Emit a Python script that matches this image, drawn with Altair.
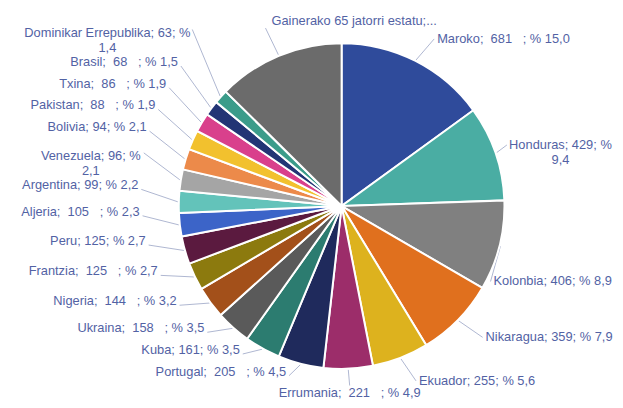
import math
import altair as alt
import pandas as pd

# ---------------- data ----------------
names = ["Maroko", "Honduras", "Kolonbia", "Nikaragua", "Ekuador", "Errumania",
         "Portugal", "Kuba", "Ukraina", "Nigeria", "Frantzia", "Peru", "Aljeria",
         "Argentina", "Venezuela", "Bolivia", "Pakistan", "Txina", "Brasil",
         "Dominikar Errepublika", "Gainerako 65 jatorri estatu"]
counts = [681, 429, 406, 359, 255, 221, 205, 161, 158, 144, 125, 125, 105,
          99, 96, 94, 88, 86, 68, 63, 572]
pcts = ["15,0", "9,4", "8,9", "7,9", "5,6", "4,9", "4,5", "3,5", "3,5", "3,2",
        "2,7", "2,7", "2,3", "2,2", "2,1", "2,1", "1,9", "1,9", "1,5", "1,4", "12,6"]
# label text formatting as shown in the picture
padded = [1, 0, 0, 0, 0, 1, 1, 0, 1, 1, 1, 0, 1, 0, 0, 0, 1, 1, 1, 0, 0]
wrapped = [0, 1, 0, 0, 0, 0, 0, 0, 0, 0, 0, 0, 0, 0, 1, 0, 0, 0, 0, 1, 0]
truncated = [0] * 20 + [1]
colors = ["#2F4B9B", "#4AADA3", "#808080", "#E0701E", "#DDB21E", "#9C2D6A",
          "#1F2A5C", "#2C7C70", "#5A5A5A", "#A3501A", "#8C7A0E", "#5B1A3F",
          "#3C64C8", "#63C3BA", "#A5A5A5", "#EC8A4A", "#F2C12E", "#D9408C",
          "#223575", "#3B9C8A", "#6B6B6B"]

# ---------------- layout constants ----------------
W, H = 615, 400
CX, CY, R = 338, 198, 165
RLX, RLY = 200, 190
FS, LH = 13, 15
GAP = 7
TEXT_COLOR = "#5262A4"
LINE_COLOR = "#AEB6D0"
NB = "\u00a0"


def make_label(i):
    if truncated[i]:
        return f"{names[i]};..."
    cnt = f"{NB}{counts[i]}{NB * 3}" if padded[i] else f"{counts[i]}"
    sep = "\n" if wrapped[i] else " "
    return f"{names[i]}; {cnt}; %{sep}{pcts[i]}"


def char_w(c):
    if c.isdigit():
        return 0.556
    if c in " \u00a0;,.:":
        return 0.278
    if c == "%":
        return 0.889
    if c in "ijl":
        return 0.222
    if c in "ftr":
        return 0.3
    if c in "mw":
        return 0.833
    if c.isupper():
        return 0.68
    return 0.54


def text_w(s):
    return max(sum(char_w(c) for c in line) for line in s.split("\n")) * FS


total = sum(counts)
items = []
cum = 0
for i in range(len(names)):
    mid = (cum + counts[i] / 2) / total * 2 * math.pi
    cum += counts[i]
    sx, sy = math.sin(mid), math.cos(mid)
    lab = make_label(i)
    nl = lab.count("\n") + 1
    it = dict(idx=i, name=names[i], count=counts[i], label=lab, nl=nl,
              w=text_w(lab), half=nl * LH / 2,
              ex=CX + (R + 1) * sx, ey=CY - (R + 1) * sy,
              ax=CX + RLX * sx, ay=CY - RLY * sy, sx=sx, sy=sy)
    if sy > 0.9:
        it["side"] = "top"
    elif sy < -0.98:
        it["side"] = "bottom"
    elif sx > 0:
        it["side"] = "right"
    else:
        it["side"] = "left"
    items.append(it)

# left side: labels sit above their leader, stacked from the bottom up
left = sorted([t for t in items if t["side"] == "left"], key=lambda t: -t["ay"])
prev = None
for t in left:
    y = t["ay"] - 16
    if prev is not None:
        y = min(y, prev["y"] - (prev["half"] + t["half"] + GAP))
    t["y"] = y
    t["bx0"] = t["ax"] - 6 - t["w"]
    t["bx1"] = t["ax"] - 6
    yf = y - (t["nl"] - 1) * LH / 2
    t["lx"], t["ly"] = t["bx1"] + 3, yf + 4
    prev = t

# right side: labels kept inside the page and clear of the pie, stacked downward
right = sorted([t for t in items if t["side"] == "right"], key=lambda t: t["ay"])
prev = None
for t in right:
    x0 = min(t["ax"] + 6, W - 4 - t["w"])
    y = t["ay"]
    d = x0 - CX - 4
    if d < R:
        need = math.sqrt(R * R - d * d) + t["half"]
        if abs(y - CY) < need:
            y = CY + math.copysign(need, y - CY)
    if prev is not None:
        y = max(y, prev["y"] + prev["half"] + t["half"] + GAP)
    t["y"] = y
    t["bx0"], t["bx1"] = x0, x0 + t["w"]
    t["lx"], t["ly"] = x0 - 3, y
    prev = t

for t in items:
    if t["side"] == "top":
        t["y"] = t["ay"] - 12
        t["bx0"] = t["ax"] + 6
        t["bx1"] = t["bx0"] + t["w"]
        t["lx"], t["ly"] = t["ax"], t["y"] + 7
    elif t["side"] == "bottom":
        t["y"] = t["ay"]
        t["bx0"] = t["ax"] - t["w"] / 2
        t["bx1"] = t["ax"] + t["w"] / 2
        t["lx"], t["ly"] = t["ax"], t["y"] - 8

for t in items:
    if t["nl"] > 1 or t["side"] == "bottom":
        t["align"] = "center"
        t["tx"] = (t["bx0"] + t["bx1"]) / 2
    elif t["side"] == "left":
        t["align"] = "right"
        t["tx"] = t["bx1"]
    else:
        t["align"] = "left"
        t["tx"] = t["bx0"]

df = pd.DataFrame(items)
df = df[["idx", "name", "count", "label", "tx", "y", "align", "ex", "ey", "lx", "ly"]]

xs = alt.Scale(domain=[0, W], nice=False, zero=False)
ys = alt.Scale(domain=[0, H], reverse=True, nice=False, zero=False)

base = alt.Chart(df)

pie = base.mark_arc(outerRadius=R, stroke="white", strokeWidth=2).encode(
    theta=alt.Theta("count:Q", stack=True),
    color=alt.Color("name:N", scale=alt.Scale(domain=names, range=colors), legend=None),
    order=alt.Order("idx:Q"),
    x=alt.value(CX),
    y=alt.value(CY),
)

leaders = base.mark_rule(color=LINE_COLOR, strokeWidth=1).encode(
    x=alt.X("ex:Q", scale=xs, axis=None),
    y=alt.Y("ey:Q", scale=ys, axis=None),
    x2="lx:Q",
    y2="ly:Q",
)

texts = []
for a in ["left", "right", "center"]:
    texts.append(
        base.transform_filter(alt.datum.align == a).mark_text(
            align=a, baseline="middle", font="Liberation Sans", fontSize=FS,
            lineBreak="\n", lineHeight=LH, color=TEXT_COLOR,
        ).encode(
            x=alt.X("tx:Q", scale=xs, axis=None),
            y=alt.Y("y:Q", scale=ys, axis=None),
            text="label:N",
        )
    )

chart = alt.layer(leaders, pie, *texts).properties(
    width=W, height=H, padding=0,
    autosize=alt.AutoSizeParams(type="none"),
    background="white",
).configure_view(stroke=None)

chart.save("out.html", embed_options={"renderer": "svg", "actions": False})
